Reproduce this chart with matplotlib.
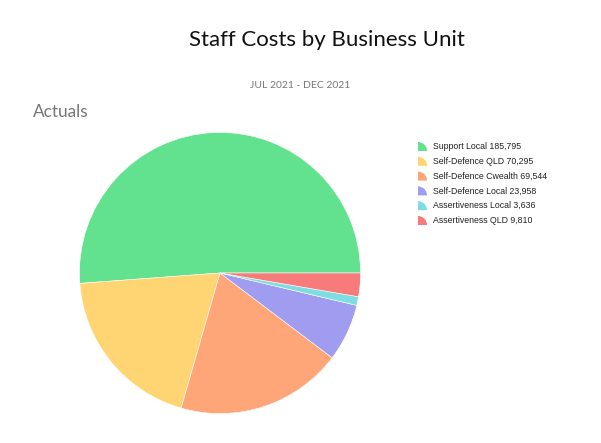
import matplotlib.pyplot as plt
from matplotlib.patches import Wedge

units = ["Support Local", "Self-Defence QLD", "Self-Defence Cwealth",
         "Self-Defence Local", "Assertiveness Local", "Assertiveness QLD"]
costs = [185795, 70295, 69544, 23958, 3636, 9810]
colors = ["#62E28F", "#FFD472", "#FFA679", "#A09DF1", "#7EDDE3", "#F77B7B"]

fig = plt.figure(figsize=(6.01, 4.43), dpi=100)
fig.patch.set_facecolor("white")

# pie placed by hand so it lines up with the reference
ax = fig.add_axes([79/601, 1-414/443, 282/601, 282/443])
ax.pie(costs, colors=colors, startangle=0, counterclock=True, radius=1,
       wedgeprops=dict(edgecolor="white", linewidth=0.4))
ax.set_xlim(-1.003, 1.003)
ax.set_ylim(-1.003, 1.003)
ax.set_aspect("equal")

fig.text(327/601, 1-40/443, "Staff Costs by Business Unit", ha="center", va="center",
         fontsize=16, family="Lato", color="#111111")
fig.text(300/601, 1-86/443, "JUL 2021 - DEC 2021", ha="center", va="center",
         fontsize=7.5, family="Lato", color="#777777")
fig.text(33/601, 1-112/443, "Actuals", ha="left", va="center",
         fontsize=12.4, family="Lato", color="#777777")

# legend drawn by hand in pixel coords (quarter-circle keys)
lg = fig.add_axes([0, 0, 1, 1])
lg.set_xlim(0, 601)
lg.set_ylim(443, 0)
lg.axis("off")
lg.patch.set_alpha(0)
for i, (u, v, c) in enumerate(zip(units, costs, colors)):
    yb = 151 + i * 14.8
    lg.add_patch(Wedge((418, yb), 9, 270, 360, facecolor=c, edgecolor="none"))
    lg.text(433, yb - 4.5, f"{u} {v:,}", ha="left", va="center",
            fontsize=6.3, family="Liberation Sans", color="#222222")

fig.savefig("out.png", dpi=100)
